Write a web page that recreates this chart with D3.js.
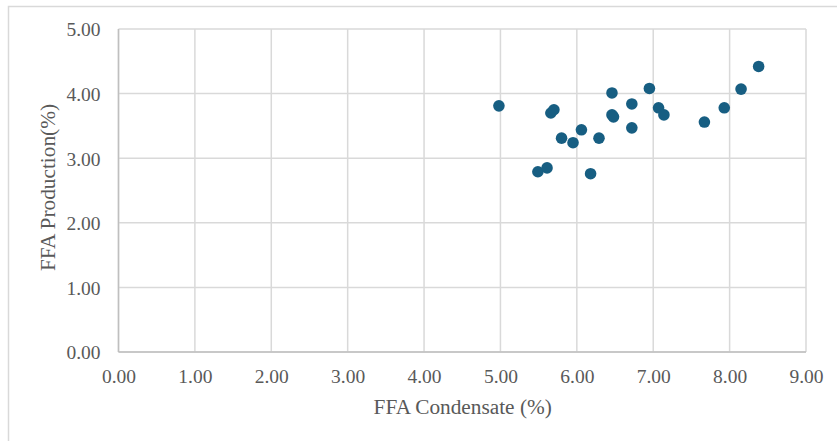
<!DOCTYPE html>
<html><head><meta charset="utf-8">
<script src="https://cdn.jsdelivr.net/npm/d3@7"></script>
<style>body{margin:0;background:#fff}svg{display:block}</style>
</head><body>
<script>
const condensate = [4.98,5.66,5.70,5.80,5.95,6.06,5.49,5.61,6.18,6.29,6.46,6.46,6.48,6.72,6.72,6.95,7.07,7.14,7.67,7.93,8.15,8.38];
const production = [3.81,3.70,3.75,3.31,3.24,3.44,2.79,2.85,2.76,3.31,4.01,3.67,3.64,3.84,3.47,4.08,3.78,3.67,3.56,3.78,4.07,4.42];
const xTicks = [0,1,2,3,4,5,6,7,8,9];
const yTicks = [0,1,2,3,4,5];
const xTitle = "FFA Condensate (%)";
const yTitle = "FFA Production(%)";

const W=837,H=441;
const svg=d3.select("body").append("svg").attr("width",W).attr("height",H);
svg.append("rect").attr("width",W).attr("height",H).attr("fill","#fff");
// outer frame (top & left visible)
svg.append("path").attr("d",`M8.5,${H} V6.5 H${W}`).attr("fill","none").attr("stroke","#d9d9d9").attr("stroke-width",1.5);

const x=d3.scaleLinear().domain([0,9]).range([118.5,806]);
const y=d3.scaleLinear().domain([0,5]).range([352,29]);
const font="'Liberation Serif','Times New Roman',serif";

const g=svg.append("g");
g.selectAll(".vg").data(xTicks).join("line").attr("x1",d=>x(d)).attr("x2",d=>x(d)).attr("y1",y(0)).attr("y2",y(5)).attr("stroke","#d9d9d9").attr("stroke-width",1.5);
g.selectAll(".hg").data(yTicks).join("line").attr("y1",d=>y(d)).attr("y2",d=>y(d)).attr("x1",x(0)).attr("x2",x(9)).attr("stroke","#d9d9d9").attr("stroke-width",1.5);
// axis lines
g.append("line").attr("x1",x(0)).attr("x2",x(9)).attr("y1",y(0)).attr("y2",y(0)).attr("stroke","#bfbfbf").attr("stroke-width",1.5);
g.append("line").attr("x1",x(0)).attr("x2",x(0)).attr("y1",y(0)).attr("y2",y(5)).attr("stroke","#bfbfbf").attr("stroke-width",1.5);

const xa=svg.append("g").attr("transform",`translate(0,${y(0)})`).call(d3.axisBottom(x).tickValues(xTicks).tickFormat(d3.format(".2f")).tickSize(0).tickPadding(0));
xa.select(".domain").remove();
xa.selectAll("text").attr("dy",null).attr("y",30.5).attr("font-family",font).attr("font-size",19.5).attr("fill","#595959");
const ya=svg.append("g").attr("transform",`translate(${x(0)},0)`).call(d3.axisLeft(y).tickValues(yTicks).tickFormat(d3.format(".2f")).tickSize(0).tickPadding(0));
ya.select(".domain").remove();
ya.selectAll("text").attr("x",-18).attr("dy","0.35em").attr("font-family",font).attr("font-size",19.5).attr("fill","#595959");

svg.append("text").attr("x",462.7).attr("y",414).attr("text-anchor","middle").attr("font-family",font).attr("font-size",21.3).attr("fill","#595959").text(xTitle);
svg.append("text").attr("transform",`translate(55,187.5) rotate(-90)`).attr("text-anchor","middle").attr("font-family",font).attr("font-size",21.3).attr("fill","#595959").text(yTitle);

svg.append("g").selectAll("circle").data(condensate.map((c,i)=>[c,production[i]])).join("circle")
 .attr("cx",d=>x(d[0])).attr("cy",d=>y(d[1])).attr("r",5.8).attr("fill","#175e82");
</script>
</body></html>
